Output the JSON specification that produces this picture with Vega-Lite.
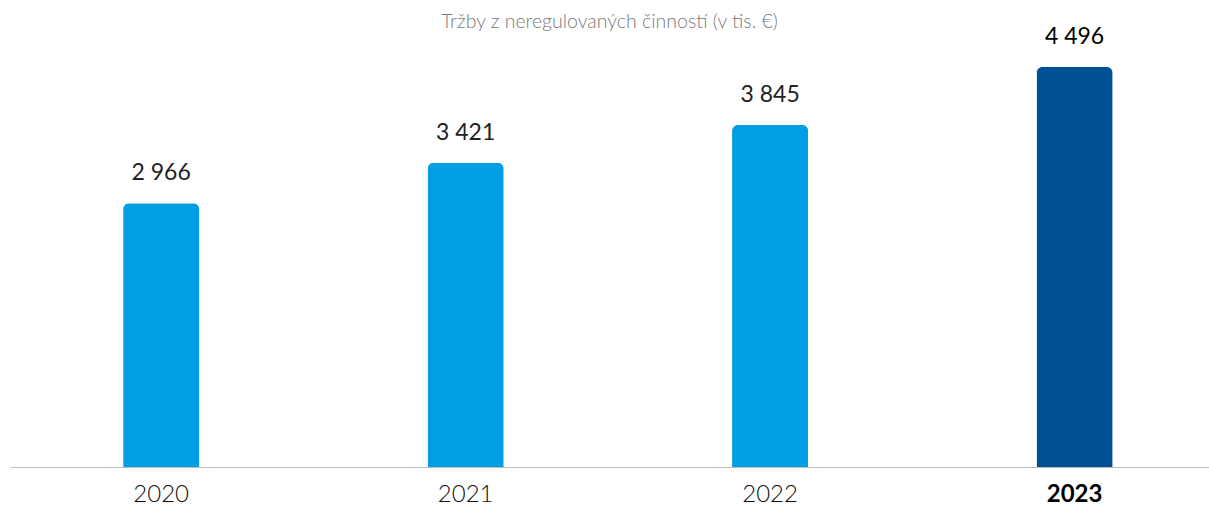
{
  "$schema": "https://vega.github.io/schema/vega-lite/v6.json",
  "width": 1199,
  "height": 420,
  "autosize": "none",
  "padding": {"left": 10, "top": 47, "right": 0, "bottom": 39},
  "title": {
    "text": "Tržby z neregulovaných činností (v tis. €)",
    "fontSize": 19.5,
    "font": "Lato",
    "fontWeight": 300,
    "color": "#7a7a7a",
    "anchor": "middle",
    "offset": 14,
    "dy": 20
  },
  "config": {
    "view": {"stroke": null},
    "locale": {"number": {"decimal": ",", "thousands": " ", "grouping": [3], "currency": ["", " €"]}}
  },
  "data": {
    "values": [
      {"rok": "2020", "trzby": 2966, "zvyraznit": false},
      {"rok": "2021", "trzby": 3421, "zvyraznit": false},
      {"rok": "2022", "trzby": 3845, "zvyraznit": false},
      {"rok": "2023", "trzby": 4496, "zvyraznit": true}
    ]
  },
  "encoding": {
    "x": {
      "field": "rok",
      "type": "ordinal",
      "scale": {"paddingInner": 0.75, "paddingOuter": 0.344, "align": 0.54},
      "axis": {
        "title": null,
        "labelAngle": 0,
        "ticks": false,
        "domainColor": "#bdbdbd",
        "domainWidth": 1,
        "labelFont": "Lato",
        "labelFontSize": 24,
        "labelPadding": 15,
        "labelColor": {"condition": {"test": "datum.value == '2023'", "value": "#000000"}, "value": "#111111"},
        "labelFontWeight": {"condition": {"test": "datum.value == '2023'", "value": "bold"}, "value": 300}
      }
    },
    "y": {
      "field": "trzby",
      "type": "quantitative",
      "scale": {"domain": [0, 4722]},
      "axis": null
    }
  },
  "layer": [
    {
      "mark": {"type": "bar", "cornerRadiusTopLeft": 6, "cornerRadiusTopRight": 6},
      "encoding": {
        "color": {
          "field": "zvyraznit",
          "type": "nominal",
          "scale": {"domain": [false, true], "range": ["#009fe3", "#005096"]},
          "legend": null
        }
      }
    },
    {
      "mark": {"type": "text", "baseline": "bottom", "dy": -18, "font": "Lato", "fontSize": 23},
      "encoding": {
        "text": {"field": "trzby", "type": "quantitative", "format": ",d"},
        "fontWeight": {"condition": {"test": "datum.zvyraznit", "value": "normal"}, "value": 300},
        "color": {"condition": {"test": "datum.zvyraznit", "value": "#000000"}, "value": "#222222"}
      }
    }
  ]
}
